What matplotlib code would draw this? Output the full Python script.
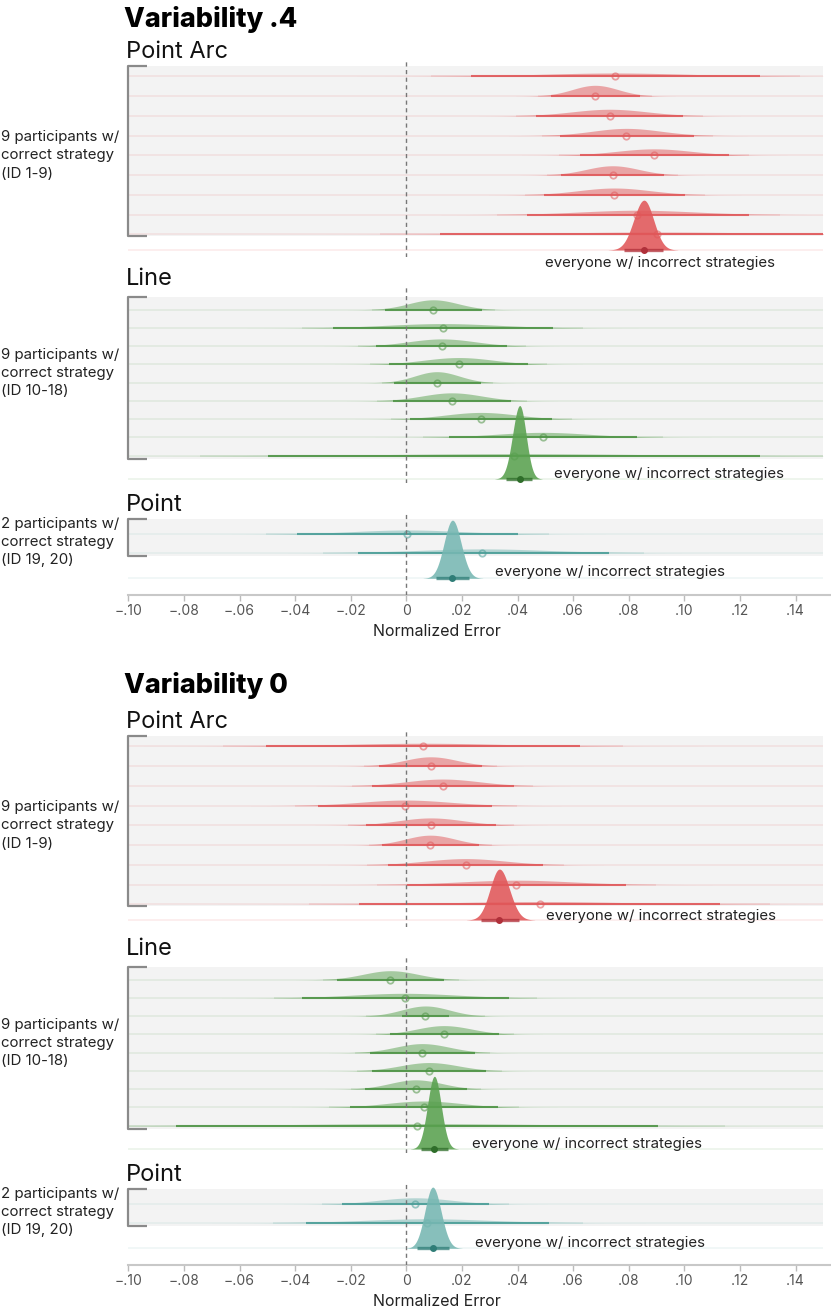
import numpy as np
import matplotlib
matplotlib.use("Agg")
import matplotlib.pyplot as plt
from matplotlib.patches import Rectangle

plt.rcParams['font.family'] = ['Inter', 'DejaVu Sans']

W, H = 831, 1309

# ---- values (normalized error) ----
# Variability .4
v4_arc_mean = [0.0751, 0.0679, 0.0731, 0.0792, 0.0891, 0.0742, 0.0748, 0.0831, 0.0901]
v4_arc_lo = [0.0231, 0.0519, 0.0468, 0.0554, 0.0624, 0.0556, 0.0495, 0.0435, 0.0120]
v4_arc_hi = [0.1272, 0.0840, 0.0995, 0.1035, 0.1159, 0.0927, 0.1003, 0.1232, 0.1700]
v4_arc_all = [0.0855, 0.0783, 0.0923]  # mean, lo, hi

v4_line_mean = [0.0097, 0.0131, 0.0128, 0.0189, 0.0110, 0.0164, 0.0269, 0.0490, 0.0387]
v4_line_lo = [-0.0076, -0.0265, -0.0109, -0.0061, -0.0046, -0.0048, 0.0015, 0.0152, -0.0499]
v4_line_hi = [0.0272, 0.0526, 0.0364, 0.0438, 0.0267, 0.0377, 0.0524, 0.0830, 0.1272]
v4_line_all = [0.0408, 0.0358, 0.0453]

v4_point_mean = [0.0004, 0.0274]
v4_point_lo = [-0.0394, -0.0175]
v4_point_hi = [0.0402, 0.0730]
v4_point_all = [0.0166, 0.0107, 0.0227]

# Variability 0
v0_arc_mean = [0.0061, 0.0088, 0.0131, -0.0004, 0.0088, 0.0086, 0.0213, 0.0396, 0.0480]
v0_arc_lo = [-0.0503, -0.0099, -0.0124, -0.0316, -0.0145, -0.0088, -0.0065, 0.0002, -0.0170]
v0_arc_hi = [0.0625, 0.0274, 0.0387, 0.0310, 0.0322, 0.0261, 0.0491, 0.0790, 0.1130]
v0_arc_all = [0.0335, 0.0269, 0.0406]

v0_line_mean = [-0.0057, -0.0006, 0.0069, 0.0135, 0.0057, 0.0082, 0.0034, 0.0063, 0.0038]
v0_line_lo = [-0.0248, -0.0375, -0.0015, -0.0057, -0.0131, -0.0122, -0.0149, -0.0204, -0.0829]
v0_line_hi = [0.0135, 0.0368, 0.0155, 0.0333, 0.0248, 0.0288, 0.0219, 0.0331, 0.0907]
v0_line_all = [0.0101, 0.0053, 0.0149]
v0_line_spread = {2: 0.0086}  # density wider than its interval in that row

v0_point_mean = [0.0032, 0.0074]
v0_point_lo = [-0.0232, -0.0360]
v0_point_hi = [0.0297, 0.0514]
v0_point_all = [0.0095, 0.0040, 0.0154]

ticks = [-0.10, -0.08, -0.06, -0.04, -0.02, 0, 0.02, 0.04, 0.06, 0.08, 0.10, 0.12, 0.14]
agg_label = "everyone w/ incorrect strategies"

RED = ('#e15759', '#e05a5c', '#b0303a')
GREEN = ('#59a14f', '#4f9446', '#2f6e2a')
TEAL = ('#76b7b2', '#4b9e98', '#2f7d77')

# layout of the upper half in pixels, the lower half sits 670 px lower
X0 = 128.3
PXU = 2780.0
XMIN = -0.10
XMAX = XMIN + (W - X0) / PXU
BOXR = 0.150

panels = [
    dict(name="Point Arc", title_y=58, top=59, bot=257, box=(66, 236), row0=76.3, sp=19.75,
         agg=250, lab_y=155.5, lab="9 participants w/\ncorrect strategy\n(ID 1-9)", col=RED),
    dict(name="Line", title_y=285, top=286, bot=483, box=(297.3, 459.3), row0=309.7, sp=18.25,
         agg=479, lab_y=373, lab="9 participants w/\ncorrect strategy\n(ID 10-18)", col=GREEN),
    dict(name="Point", title_y=511, top=513, bot=594.5, box=(519, 556), row0=534.3, sp=18.4,
         agg=578.3, lab_y=542, lab="2 participants w/\ncorrect strategy\n(ID 19, 20)", col=TEAL,
         axis=True),
]

halves = [
    dict(title="Variability .4", title_y=26.7, off=0,
         data=[(v4_arc_mean, v4_arc_lo, v4_arc_hi, v4_arc_all, {}),
               (v4_line_mean, v4_line_lo, v4_line_hi, v4_line_all, {}),
               (v4_point_mean, v4_point_lo, v4_point_hi, v4_point_all, {})],
         text=[(0.0499, 12.7), (0.0533, -5), (0.0318, -6)]),
    dict(title="Variability 0", title_y=693.3, off=670,
         data=[(v0_arc_mean, v0_arc_lo, v0_arc_hi, v0_arc_all, {}),
               (v0_line_mean, v0_line_lo, v0_line_hi, v0_line_all, v0_line_spread),
               (v0_point_mean, v0_point_lo, v0_point_hi, v0_point_all, {})],
         text=[(0.0504, -4), (0.0235, -5), (0.0247, -5)]),
]


def tick_fmt(v):
    if abs(v) < 1e-9:
        return "0"
    s = ("%.2f" % abs(v))[1:]
    return ("\u2212" + s) if v < 0 else s


def half_eye(ax, y, m, lo, hi, sp, col, coef, alpha, zo, sd=None):
    sl = (m - lo) / 1.96
    sr = (hi - m) / 1.96
    if sd is not None:
        sl = sr = sd
    s = (sl + sr) / 2
    xs = np.linspace(max(m - 3.5 * sl, XMIN), min(m + 3.5 * sr, BOXR), 400)
    z = np.where(xs < m, (xs - m) / sl, (xs - m) / sr)
    h = coef / s * np.exp(-0.5 * z ** 2) / sp
    ax.fill_between(xs, y, y - h, color=col, alpha=alpha, lw=0, zorder=zo)
    return sl, sr


fig = plt.figure(figsize=(W / 100, H / 100), dpi=100)

for half in halves:
    off = half['off']
    fig.text(124 / W, 1 - half['title_y'] / H, half['title'], fontsize=19.5, fontweight='heavy',
             color='#000000', ha='left', va='baseline')
    for p, (means, los, his, allv, spread), (tx, ty) in zip(panels, half['data'], half['text']):
        top, bot = p['top'] + off, p['bot'] + off
        row0, sp = p['row0'] + off, p['sp']
        ax = fig.add_axes([X0 / W, 1 - bot / H, (W - X0) / W, (bot - top) / H])
        ax.set_xlim(XMIN, XMAX)
        ax.set_ylim((bot - row0) / sp, (top - row0) / sp)
        fill, line, dark = p['col']

        fig.text(126 / W, 1 - (p['title_y'] + off) / H, p['name'], fontsize=17,
                 color='#111111', ha='left', va='baseline')
        fig.text(1 / W, 1 - (p['lab_y'] + off) / H, p['lab'], fontsize=10.8, color='#222222',
                 ha='left', va='center', linespacing=1.38)

        b0 = (p['box'][0] + off - row0) / sp
        b1 = (p['box'][1] + off - row0) / sp
        ax.add_patch(Rectangle((XMIN, b0), BOXR - XMIN, b1 - b0, facecolor='#f3f3f3',
                               edgecolor='none', zorder=0))
        # bracket on the left
        arm = 19 / PXU
        ax.plot([XMIN + arm, XMIN, XMIN, XMIN + arm], [b0, b0, b1, b1], color='#8a8a8a',
                lw=1.6, clip_on=False, zorder=7, solid_capstyle='butt')

        rows = np.arange(len(means))
        ya = (p['agg'] + off - row0) / sp
        for yy in list(rows) + [ya]:
            ax.hlines(yy, XMIN, BOXR, color=fill, alpha=0.13, lw=1.1, zorder=1)

        for i in rows:
            m, lo, hi = means[i], los[i], his[i]
            sl, sr = half_eye(ax, i, m, lo, hi, sp, fill, 0.088, 0.5, 2, spread.get(i))
            ax.hlines(i, max(m - 2.5 * sl, XMIN), min(m + 2.5 * sr, BOXR), color=line,
                      alpha=0.15, lw=1.3, zorder=3)
            ax.hlines(i, max(lo, XMIN), min(hi, BOXR), color=line, alpha=0.9, lw=1.5, zorder=3)
            ax.plot(m, i, 'o', mfc='none', mec=line, mew=1.3, ms=4.6, alpha=0.55, zorder=3.5)

        m, lo, hi = allv
        half_eye(ax, ya, m, lo, hi, sp, fill, 0.178, 0.88, 4)
        ax.hlines(ya, lo, hi, color=dark, alpha=0.75, lw=2.4, zorder=5)
        ax.plot(m, ya, 'o', color=dark, ms=4, zorder=5.5)

        ax.text(tx, ya + ty / sp, agg_label, fontsize=10.8, color='#222222', ha='left',
                va='center', zorder=8)

        ax.axvline(0, color='#777777', lw=1, ls=(0, (3, 2.5)), zorder=6)

        for side in ['top', 'right', 'left']:
            ax.spines[side].set_visible(False)
        ax.set_yticks([])
        if p.get('axis'):
            ax.spines['bottom'].set_color('#c8c8c8')
            ax.spines['bottom'].set_linewidth(1.5)
            ax.set_xticks(ticks)
            ax.set_xticklabels([tick_fmt(t) for t in ticks])
            ax.tick_params(axis='x', length=4, width=1, color='#bbbbbb', labelsize=10,
                           labelcolor='#555555', pad=3)
            ax.set_xlabel("Normalized Error", fontsize=11.5, color='#222222')
            ax.xaxis.set_label_coords((437 - X0) / (W - X0), -(632 - 594.5) / (bot - top),
                                      transform=ax.transAxes)
            ax.xaxis.label.set_va('center')
        else:
            ax.spines['bottom'].set_visible(False)
            ax.set_xticks([])
        ax.patch.set_alpha(0)

fig.savefig("out.png", dpi=100)
